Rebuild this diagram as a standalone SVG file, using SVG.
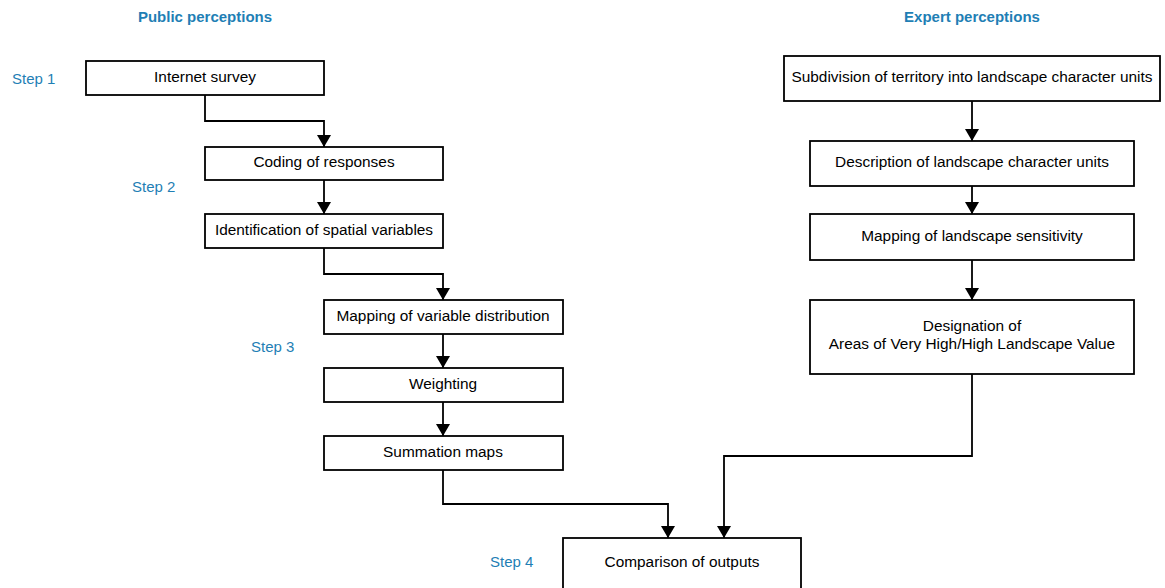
<svg xmlns="http://www.w3.org/2000/svg" width="1165" height="588" viewBox="0 0 1165 588">
<style>
.box{fill:#fff;stroke:#000;stroke-width:1.8}
.t{font-family:"Liberation Sans",Arial,sans-serif;font-size:15.4px;fill:#000;text-anchor:middle}
.h{font-family:"Liberation Sans",Arial,sans-serif;font-size:15px;font-weight:bold;fill:#1f7fb5;text-anchor:middle}
.s{font-family:"Liberation Sans",Arial,sans-serif;font-size:15px;fill:#1f7fb5}
.c{fill:none;stroke:#000;stroke-width:1.8}
</style>
<defs>
<marker id="arr" viewBox="0 0 12 14" refX="12" refY="7" markerWidth="12" markerHeight="14" markerUnits="userSpaceOnUse" orient="auto">
<path d="M0,0 L12,7 L0,14 Z" fill="#000"/>
</marker>
</defs>
<rect width="1165" height="588" fill="#fff"/>
<g id="labels">
<text class="h" x="205" y="22">Public perceptions</text>
<text class="h" x="972" y="22">Expert perceptions</text>
<text class="s" x="12" y="84">Step 1</text>
<text class="s" x="132" y="192">Step 2</text>
<text class="s" x="251" y="352">Step 3</text>
<text class="s" x="490" y="567">Step 4</text>
</g>
<g id="connectors">
<path class="c" d="M205,95 V121 H324 V147" marker-end="url(#arr)"/>
<path class="c" d="M324,180 V214" marker-end="url(#arr)"/>
<path class="c" d="M324,248 V274 H443 V300" marker-end="url(#arr)"/>
<path class="c" d="M443,334 V368" marker-end="url(#arr)"/>
<path class="c" d="M443,402 V436" marker-end="url(#arr)"/>
<path class="c" d="M443,470 V504 H668 V538" marker-end="url(#arr)"/>
<path class="c" d="M972,374 V456 H724 V538" marker-end="url(#arr)"/>
<path class="c" d="M972,101 V141" marker-end="url(#arr)"/>
<path class="c" d="M972,186 V214" marker-end="url(#arr)"/>
<path class="c" d="M972,260 V300" marker-end="url(#arr)"/>
</g>
<g id="n1"><rect class="box" x="86" y="61" width="238" height="34"/><text class="t" x="205" y="82">Internet survey</text></g>
<g id="n2"><rect class="box" x="205" y="147" width="238" height="33"/><text class="t" x="324" y="167">Coding of responses</text></g>
<g id="n3"><rect class="box" x="205" y="214" width="238" height="34"/><text class="t" x="324" y="235">Identification of spatial variables</text></g>
<g id="n4"><rect class="box" x="324" y="300" width="239" height="34"/><text class="t" x="443" y="321">Mapping of variable distribution</text></g>
<g id="n5"><rect class="box" x="324" y="368" width="239" height="34"/><text class="t" x="443" y="389">Weighting</text></g>
<g id="n6"><rect class="box" x="324" y="436" width="239" height="34"/><text class="t" x="443" y="457">Summation maps</text></g>
<g id="n7"><rect class="box" x="563" y="538" width="238" height="56"/><text class="t" x="682" y="567">Comparison of outputs</text></g>
<g id="e1"><rect class="box" x="784" y="56" width="376" height="45"/><text class="t" x="972" y="82">Subdivision of territory into landscape character units</text></g>
<g id="e2"><rect class="box" x="810" y="141" width="324" height="45"/><text class="t" x="972" y="167">Description of landscape character units</text></g>
<g id="e3"><rect class="box" x="810" y="214" width="324" height="46"/><text class="t" x="972" y="241">Mapping of landscape sensitivity</text></g>
<g id="e4"><rect class="box" x="810" y="300" width="324" height="74"/><text class="t" x="972" y="331">Designation of</text><text class="t" x="972" y="349">Areas of Very High/High Landscape Value</text></g>
</svg>
